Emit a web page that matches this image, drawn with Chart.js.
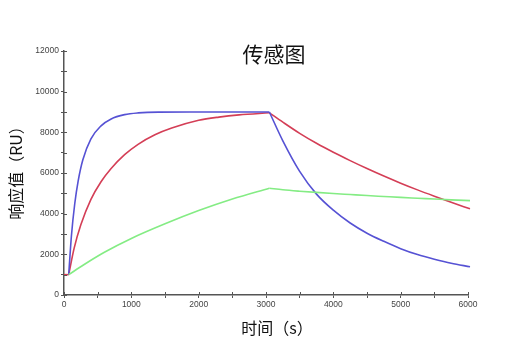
<!DOCTYPE html>
<html>
<head>
<meta charset="utf-8">
<script src="https://cdn.jsdelivr.net/npm/chart.js@4/dist/chart.umd.min.js"></script>
<style>
    html, body { margin: 0; padding: 0; background: #fff; }
</style>
</head>
<body>
<canvas id="sensorChart" width="520" height="347"></canvas>
<script>
// 文本
const chartTitle = '传感图';
const xTitle = '时间（s）';
const yTitle = '响应值（RU）';

// 基线 (s, RU)
const baseTime = [0, 70];
const baseValues = [1000, 1000];

// 结合阶段
const blueAssocTime = [70, 110, 160, 210, 280, 400, 550, 700, 900, 1100, 1400, 2000, 3050];
const blueAssocValues = [1000, 2900, 4500, 5600, 6650, 7680, 8320, 8660, 8870, 8955, 8995, 9000, 9000];

const redAssocTime = [70, 150, 250, 400, 550, 700, 900, 1100, 1350, 1600, 2000, 2300, 2600, 3050];
const redAssocValues = [1000, 2290, 3450, 4700, 5570, 6220, 6900, 7410, 7880, 8210, 8590, 8750, 8860, 8960];

const greenAssocTime = [70, 300, 600, 1000, 1500, 2000, 2500, 3050];
const greenAssocValues = [1000, 1500, 2100, 2780, 3500, 4150, 4720, 5250];

// 解离阶段
const dissocTime = [3050, 3250, 3500, 3750, 4000, 4250, 4500, 4750, 5000, 5250, 5500, 5750, 6030];
const blueDissocValues = [9000, 7580, 6080, 4960, 4170, 3540, 3040, 2640, 2280, 1990, 1760, 1560, 1390];
const redDissocValues = [8960, 8500, 7950, 7460, 7020, 6610, 6220, 5850, 5500, 5170, 4860, 4560, 4240];
const greenDissocValues = [5250, 5175, 5105, 5045, 4990, 4940, 4890, 4845, 4800, 4760, 4720, 4680, 4640];

const BLUE = 'rgb(86, 82, 212)';
const RED = 'rgb(212, 62, 86)';
const GREEN = 'rgb(132, 236, 132)';
const AXIS = '#555';
const TICK_FONT = { family: '"Liberation Sans", Arial, sans-serif', size: 8.5 };

function toPoints(times, values) {
    return times.map((t, i) => ({ x: t, y: values[i] }));
}

function curve(times, values, color) {
    return {
        data: toPoints(times, values),
        borderColor: color,
        borderWidth: 1.6,
        showLine: true,
        pointRadius: 0,
        cubicInterpolationMode: 'monotone',
        clip: false
    };
}

// 标题和轴标题
const captionPlugin = {
    id: 'captions',
    afterDraw(chart) {
        const ctx = chart.ctx;
        ctx.save();
        ctx.fillStyle = '#111';
        ctx.textAlign = 'center';
        ctx.textBaseline = 'middle';
        ctx.font = '21px "Noto Sans CJK SC"';
        ctx.fillText(chartTitle, 274, 54);
        ctx.font = '16px "Noto Sans CJK SC"';
        ctx.fillText(xTitle, 277, 328);
        ctx.translate(16, 169);
        ctx.rotate(-Math.PI / 2);
        ctx.fillText(yTitle, 0, 0);
        ctx.restore();
    }
};

// 刻度线向内的短线
const innerTickPlugin = {
    id: 'innerTicks',
    afterDraw(chart) {
        const ctx = chart.ctx;
        const { x, y } = chart.scales;
        const area = chart.chartArea;
        ctx.save();
        ctx.strokeStyle = AXIS;
        ctx.lineWidth = 1;
        ctx.beginPath();
        x.ticks.forEach((t, i) => {
            const px = Math.round(x.getPixelForTick(i)) + 0.5;
            ctx.moveTo(px, area.bottom);
            ctx.lineTo(px, area.bottom - 3);
        });
        y.ticks.forEach((t, i) => {
            const py = Math.round(y.getPixelForTick(i)) + 0.5;
            ctx.moveTo(area.left, py);
            ctx.lineTo(area.left + 3, py);
        });
        ctx.stroke();
        ctx.restore();
    }
};

new Chart(document.getElementById('sensorChart').getContext('2d'), {
    type: 'scatter',
    data: {
        datasets: [
            curve(greenAssocTime, greenAssocValues, GREEN),
            curve(dissocTime, greenDissocValues, GREEN),
            curve(blueAssocTime, blueAssocValues, BLUE),
            curve(dissocTime, blueDissocValues, BLUE),
            curve(redAssocTime, redAssocValues, RED),
            curve(dissocTime, redDissocValues, RED),
            curve(baseTime, baseValues, RED)
        ]
    },
    options: {
        responsive: false,
        animation: false,
        layout: { padding: { top: 51, right: 52, left: 0, bottom: 0 } },
        plugins: {
            legend: { display: false },
            tooltip: { enabled: false }
        },
        scales: {
            x: {
                type: 'linear',
                min: 0,
                max: 6000,
                afterFit: (scale) => { scale.height = 52; },
                ticks: {
                    stepSize: 500,
                    autoSkip: false,
                    maxRotation: 0,
                    padding: 2,
                    color: '#444',
                    font: TICK_FONT,
                    callback: (v) => (v % 1000 === 0 ? String(v) : '')
                },
                grid: { drawOnChartArea: false, tickLength: 3, color: AXIS },
                border: { color: AXIS, width: 1.5 }
            },
            y: {
                min: 0,
                max: 12000,
                afterFit: (scale) => { scale.width = 64; },
                ticks: {
                    stepSize: 1000,
                    autoSkip: false,
                    padding: 2,
                    color: '#444',
                    font: TICK_FONT,
                    callback: (v) => (v % 2000 === 0 ? String(v) : '')
                },
                grid: { drawOnChartArea: false, tickLength: 3, color: AXIS },
                border: { color: AXIS, width: 1.5 }
            }
        }
    },
    plugins: [captionPlugin, innerTickPlugin]
});
</script>
</body>
</html>
